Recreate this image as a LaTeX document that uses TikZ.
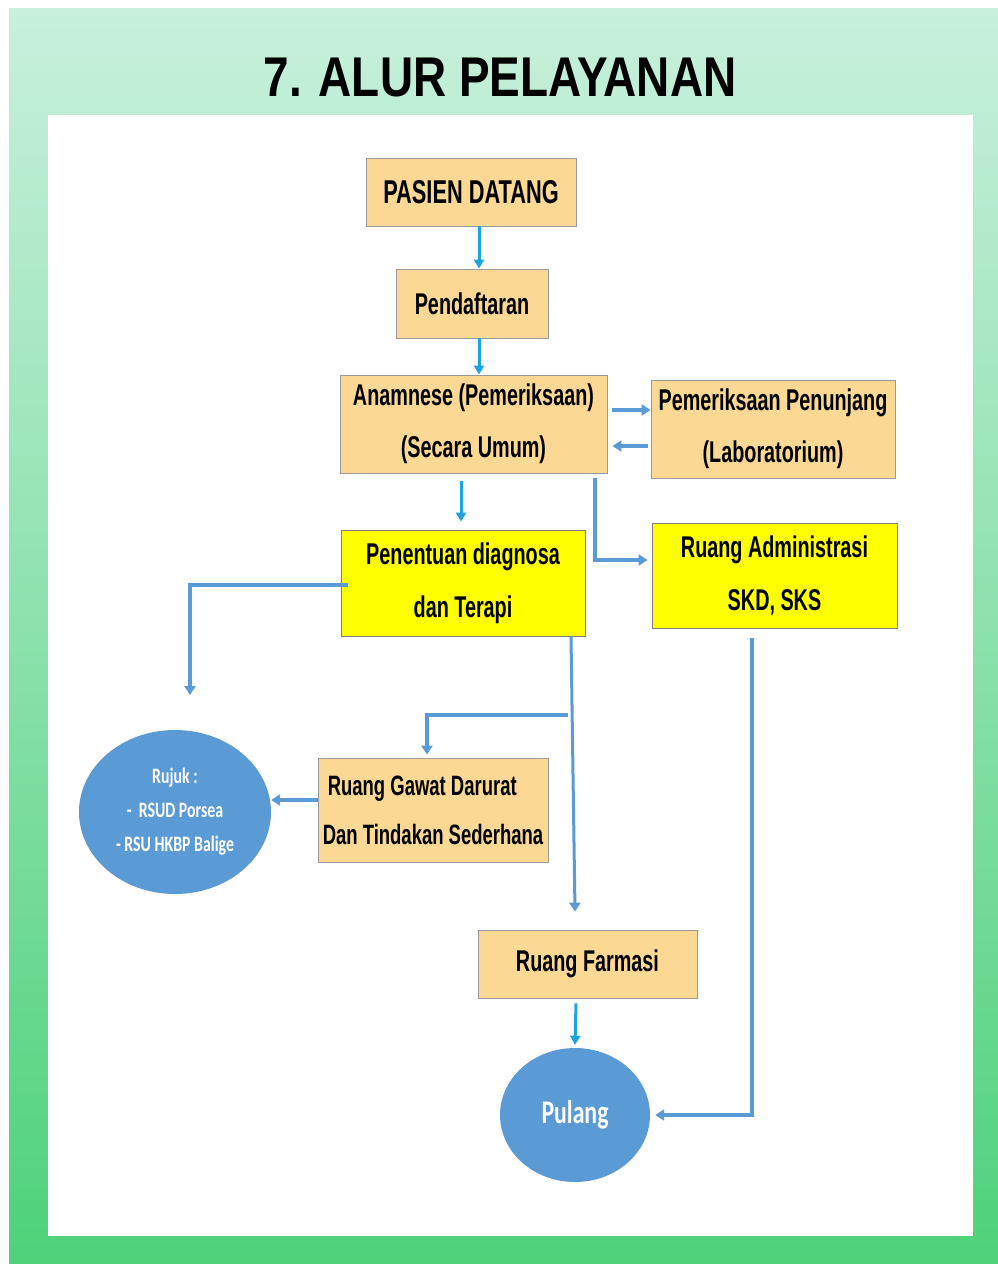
\documentclass[tikz,border=0pt]{standalone}
\usepackage{fontspec}
\setmainfont{Liberation Sans}
\newfontfamily\boxfont{Liberation Sans}[FakeStretch=0.66]
\newfontfamily\titlefont{Liberation Sans}[FakeStretch=0.82]
\newfontfamily\ellfont{Carlito}[FakeStretch=0.72]
\usetikzlibrary{shapes.geometric,arrows.meta,calc}
\definecolor{tanbox}{RGB}{251,216,148}
\definecolor{ybox}{RGB}{255,255,0}
\definecolor{cyarr}{RGB}{28,163,224}
\definecolor{blarr}{RGB}{91,155,213}
\definecolor{ellblue}{RGB}{91,155,213}
\definecolor{bgtop}{RGB}{200,240,221}
\definecolor{bgmid}{RGB}{150,228,188}
\definecolor{bgbot}{RGB}{78,210,122}
\tikzset{
  tanstyle/.style={rectangle, fill=tanbox, draw=black!40, line width=0.8pt, inner sep=0pt, align=center,
    font={\boxfont\fontsize{30}{52}\selectfont\bfseries}},
  ystyle/.style={rectangle, fill=ybox, draw=black!50, line width=0.8pt, inner sep=0pt, align=center,
    font={\boxfont\fontsize{30}{53}\selectfont\bfseries}},
  ellstyle/.style={ellipse, fill=ellblue, inner sep=0pt, text=white, align=center},
  cyline/.style={draw=cyarr, line width=3pt, -{Triangle[length=9pt,width=10pt]}},
  blline/.style={draw=blarr, line width=3.5pt, -{Triangle[length=9pt,width=11pt]}},
}
\begin{document}
\begin{tikzpicture}[x=1pt,y=-1pt]
\useasboundingbox (0,0) rectangle (998,1264);
\fill[white] (0,0) rectangle (998,1264);
\shade[top color=bgtop, middle color=bgmid, bottom color=bgbot] (9,8) rectangle (998,1264);
\fill[white] (48,115) rectangle (973,1236);

\node[font={\titlefont\fontsize{56}{60}\selectfont\bfseries}] (title) at (500,78) {7. ALUR PELAYANAN};

\node[tanstyle, minimum width=210, minimum height=68, font={\boxfont\fontsize{33}{40}\selectfont\bfseries}] (pasien) at (471,192) {PASIEN DATANG};
\node[tanstyle, minimum width=152, minimum height=69] (daftar) at (472,303.5) {Pendaftaran};
\node[tanstyle, minimum width=267, minimum height=98] (anam) at (473.5,424) {Anamnese (Pemeriksaan)\\(Secara Umum)};
\node[tanstyle, minimum width=244, minimum height=98] (penunjang) at (773,429) {Pemeriksaan Penunjang\\(Laboratorium)};
\node[ystyle, minimum width=244, minimum height=106] (diag) at (463,583) {Penentuan diagnosa\\dan Terapi};
\node[ystyle, minimum width=245, minimum height=105] (admin) at (774.5,575.5) {Ruang Administrasi\\SKD, SKS};
\node[tanstyle, minimum width=230, minimum height=104, align=left, font={\boxfont\fontsize{28}{49}\selectfont\bfseries}] (gawat) at (433,810) {\hspace*{5pt}Ruang Gawat Darurat\\Dan Tindakan Sederhana};
\node[tanstyle, minimum width=219, minimum height=68] (farmasi) at (587.5,964) {Ruang Farmasi};
\node[ellstyle, minimum width=192, minimum height=164, font={\ellfont\fontsize{22}{34}\selectfont\bfseries}] (rujuk) at (175,812) {Rujuk :\\-~~RSUD Porsea\\- RSU HKBP Balige};
\node[ellstyle, minimum width=150, minimum height=134, font={\ellfont\fontsize{33}{40}\selectfont\bfseries}] (pulang) at (575,1115) {Pulang};

\coordinate (rfree) at (190,695);
\coordinate (br) at (568,715);
\coordinate (gw) at ([yshift=10pt]gawat.west);

\draw[cyline] ([xshift=8pt]pasien.south) -- ([xshift=7pt]daftar.north);
\draw[cyline] ([xshift=7pt]daftar.south) -- ([xshift=5.5pt]anam.north);
\draw[blline] ([xshift=5pt,yshift=14pt]anam.east) -- ([yshift=19pt]penunjang.west);
\draw[blline] ([xshift=-3pt,yshift=-17pt]penunjang.west) -- ([xshift=5pt,yshift=-22pt]anam.east);
\draw[cyline] ([xshift=-12.5pt,yshift=-8pt]anam.south) -- ([xshift=-2pt,yshift=8pt]diag.north);
\draw[blline] ([xshift=121.5pt,yshift=-5pt]anam.south) |- ([xshift=-4pt,yshift=15.5pt]admin.west);
\draw[blline] ([xshift=7pt,yshift=-2pt]diag.west) -| (rfree);
\draw[blline, line width=3pt] ([xshift=108pt]diag.south) -- ([xshift=-12.5pt,yshift=18pt]farmasi.north);
\draw[blline] (br) -| ([xshift=-6pt,yshift=3pt]gawat.north);
\draw[blline] (gw) -- (gw -| rujuk.east);
\draw[cyline] ([xshift=-11.5pt,yshift=-5pt]farmasi.south) -- ([yshift=3pt]pulang.north);
\draw[blline] ([xshift=-22.5pt,yshift=-10pt]admin.south) |- ([xshift=5pt]pulang.east);
\end{tikzpicture}
\end{document}
